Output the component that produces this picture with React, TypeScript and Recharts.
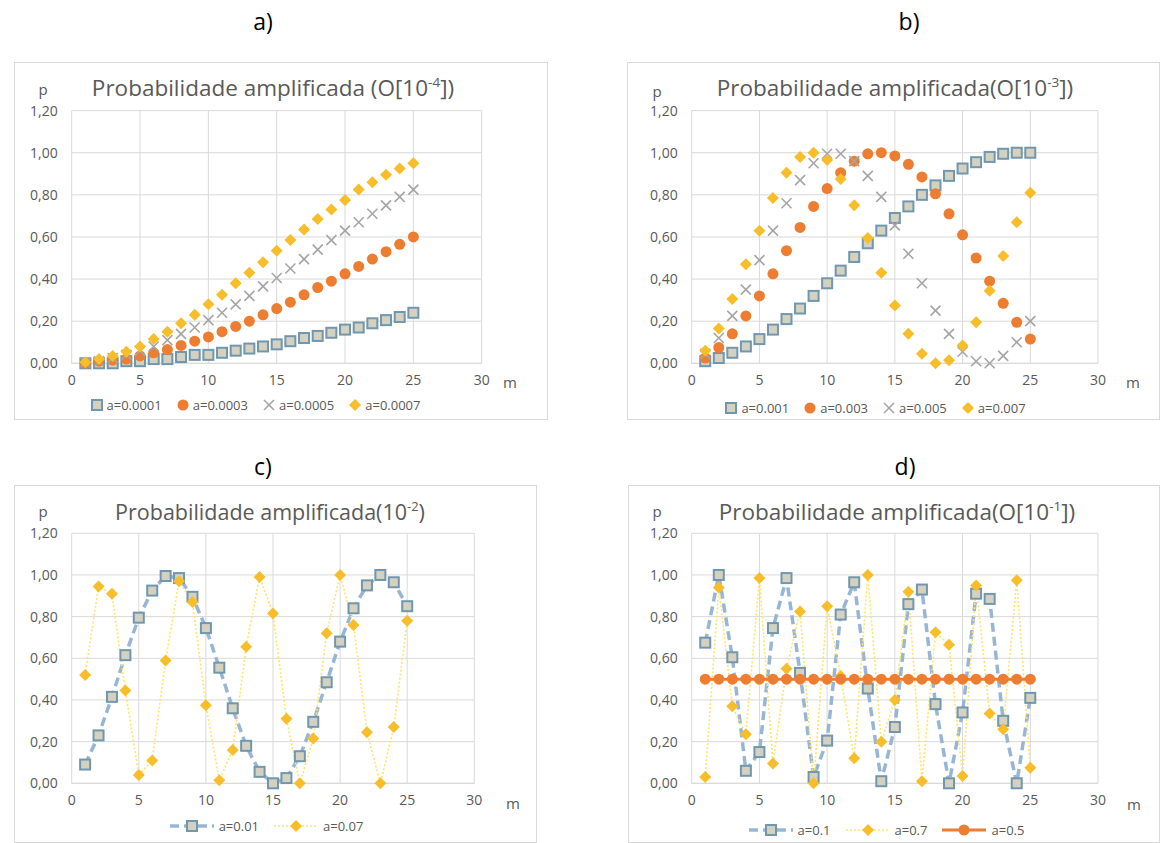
import React from 'react';
import { ComposedChart, Line, XAxis, YAxis, CartesianGrid } from 'recharts';

// ---------- data ----------
const M = [1, 2, 3, 4, 5, 6, 7, 8, 9, 10, 11, 12, 13, 14, 15, 16, 17, 18, 19, 20, 21, 22, 23, 24, 25];
const X_TICKS = [0, 5, 10, 15, 20, 25, 30];
const Y_TICKS = [0, 0.2, 0.4, 0.6, 0.8, 1.0, 1.2];

// panel a
const A_0001 = [0.00, 0.00, 0.00, 0.01, 0.01, 0.02, 0.02, 0.03, 0.04, 0.04, 0.05, 0.06, 0.07, 0.08, 0.09, 0.105, 0.12, 0.13, 0.145, 0.16, 0.17, 0.19, 0.205, 0.22, 0.24];
const A_0003 = [0.00, 0.01, 0.015, 0.02, 0.035, 0.05, 0.065, 0.085, 0.105, 0.125, 0.15, 0.175, 0.20, 0.23, 0.26, 0.29, 0.325, 0.36, 0.39, 0.425, 0.46, 0.495, 0.53, 0.565, 0.60];
const A_0005 = [0.005, 0.01, 0.025, 0.04, 0.06, 0.08, 0.11, 0.14, 0.17, 0.205, 0.24, 0.28, 0.32, 0.365, 0.405, 0.45, 0.495, 0.54, 0.585, 0.63, 0.67, 0.71, 0.75, 0.79, 0.825];
const A_0007 = [0.005, 0.02, 0.035, 0.055, 0.08, 0.115, 0.15, 0.19, 0.23, 0.28, 0.325, 0.38, 0.43, 0.48, 0.535, 0.585, 0.635, 0.685, 0.73, 0.775, 0.825, 0.86, 0.895, 0.925, 0.95];

// panel b
const B_001 = [0.01, 0.025, 0.05, 0.08, 0.115, 0.16, 0.21, 0.26, 0.32, 0.38, 0.44, 0.505, 0.57, 0.63, 0.69, 0.745, 0.80, 0.845, 0.89, 0.925, 0.955, 0.98, 0.995, 1.00, 1.00];
const B_003 = [0.025, 0.075, 0.14, 0.225, 0.32, 0.425, 0.535, 0.645, 0.745, 0.83, 0.905, 0.96, 0.995, 1.00, 0.985, 0.945, 0.885, 0.805, 0.71, 0.61, 0.50, 0.39, 0.285, 0.195, 0.115];
const B_005 = [0.045, 0.12, 0.225, 0.35, 0.49, 0.63, 0.76, 0.87, 0.95, 0.995, 0.995, 0.96, 0.89, 0.79, 0.655, 0.52, 0.38, 0.25, 0.14, 0.055, 0.01, 0.00, 0.035, 0.10, 0.20];
const B_007 = [0.06, 0.165, 0.305, 0.47, 0.63, 0.785, 0.905, 0.98, 1.00, 0.965, 0.875, 0.75, 0.595, 0.43, 0.275, 0.14, 0.045, 0.00, 0.015, 0.085, 0.195, 0.345, 0.51, 0.67, 0.81];

// panel c
const C_001 = [0.09, 0.23, 0.415, 0.615, 0.795, 0.925, 0.995, 0.985, 0.895, 0.745, 0.555, 0.36, 0.18, 0.055, 0.00, 0.025, 0.13, 0.295, 0.485, 0.68, 0.84, 0.95, 1.00, 0.965, 0.85];
const C_007 = [0.52, 0.945, 0.91, 0.445, 0.04, 0.11, 0.59, 0.97, 0.87, 0.375, 0.015, 0.16, 0.655, 0.99, 0.815, 0.31, 0.00, 0.215, 0.72, 1.00, 0.76, 0.245, 0.00, 0.27, 0.78];

// panel d
const D_01 = [0.675, 1.00, 0.605, 0.06, 0.15, 0.745, 0.985, 0.53, 0.03, 0.205, 0.81, 0.965, 0.455, 0.01, 0.27, 0.86, 0.93, 0.38, 0.00, 0.34, 0.91, 0.885, 0.30, 0.00, 0.41];
const D_07 = [0.03, 0.94, 0.37, 0.235, 0.985, 0.095, 0.55, 0.825, 0.00, 0.85, 0.515, 0.12, 1.00, 0.20, 0.40, 0.92, 0.01, 0.725, 0.665, 0.035, 0.95, 0.335, 0.26, 0.975, 0.075];
const D_05 = [0.5, 0.5, 0.5, 0.5, 0.5, 0.5, 0.5, 0.5, 0.5, 0.5, 0.5, 0.5, 0.5, 0.5, 0.5, 0.5, 0.5, 0.5, 0.5, 0.5, 0.5, 0.5, 0.5, 0.5, 0.5];

// ---------- styles ----------
const FONT = '"Open Sans", "Liberation Sans", sans-serif';
const TXT = '#595959';
const GRID = '#d9d9d9';
const SQ_FILL = '#D5D1C1';
const SQ_STROKE = '#7097AE';
const ORANGE = '#ED7D31';
const GRAY = '#A5A5A5';
const YELLOW = '#F7BE2A';
const BLUE_LINE = '#97B6D6';
const YELLOW_LINE = '#FFE36E';

type Kind = 'square' | 'circle' | 'cross' | 'diamond';

const Marker = ({ kind, cx, cy }: { kind: Kind; cx: number; cy: number }) => {
  if (cx == null || cy == null || isNaN(cx) || isNaN(cy)) return null;
  if (kind === 'square')
    return <rect x={cx - 5} y={cy - 5} width={10} height={10} fill={SQ_FILL} stroke={SQ_STROKE} strokeWidth={2} />;
  if (kind === 'circle') return <circle cx={cx} cy={cy} r={5.5} fill={ORANGE} />;
  if (kind === 'cross')
    return (
      <g stroke={GRAY} strokeWidth={1.6}>
        <line x1={cx - 5} y1={cy - 5} x2={cx + 5} y2={cy + 5} />
        <line x1={cx - 5} y1={cy + 5} x2={cx + 5} y2={cy - 5} />
      </g>
    );
  return <polygon points={`${cx},${cy - 6} ${cx + 6},${cy} ${cx},${cy + 6} ${cx - 6},${cy}`} fill={YELLOW} />;
};

type Series = {
  key: string;
  label: string;
  values: number[];
  kind: Kind;
  line?: { color: string; width: number; dash?: string };
};

type PanelProps = {
  box: { l: number; t: number; r: number; b: number };
  plot: { l: number; t: number; r: number; b: number };
  series: Series[];
  title: React.ReactNode;
  titleCx: number;
  titleCy: number;
  titleSize: number;
  pPos: [number, number];
  mPos: [number, number];
  legendCx: number;
  legendCy: number;
};

const YAW = 40;
const XAH = 30;

const LegendIcon = ({ s }: { s: Series }) => {
  if (!s.line) {
    return (
      <svg width={14} height={14} style={{ marginRight: 3 }}>
        <Marker kind={s.kind} cx={7} cy={7} />
      </svg>
    );
  }
  return (
    <svg width={46} height={14} style={{ marginRight: 4 }}>
      <line x1={1} y1={7} x2={45} y2={7} stroke={s.line.color} strokeWidth={s.line.width} strokeDasharray={s.line.dash} />
      <Marker kind={s.kind} cx={23} cy={7} />
    </svg>
  );
};

const Panel = (p: PanelProps) => {
  const { box, plot, series } = p;
  const W = box.r - box.l;
  const H = box.b - box.t;
  const data = M.map((m, i) => {
    const row: any = { m };
    series.forEach((s) => (row[s.key] = s.values[i]));
    return row;
  });
  const margin = {
    top: plot.t - box.t,
    left: plot.l - box.l - YAW,
    right: box.r - plot.r,
    bottom: box.b - plot.b - XAH,
  };
  return (
    <>
      <div
        style={{
          position: 'absolute',
          left: box.l,
          top: box.t,
          width: W,
          height: H,
          boxSizing: 'border-box',
          border: '1px solid #d9d9d9',
        }}
      />
      <div style={{ position: 'absolute', left: box.l, top: box.t, width: W, height: H }}>
        <ComposedChart width={W} height={H} data={data} margin={margin}>
          <CartesianGrid stroke={GRID} strokeWidth={1} />
          <XAxis
            type="number"
            dataKey="m"
            domain={[0, 30]}
            ticks={X_TICKS}
            interval={0}
            height={XAH}
            tickLine={false}
            axisLine={{ stroke: GRID }}
            tickMargin={6}
            tick={{ fill: TXT, fontSize: 14, fontFamily: FONT }}
          />
          <YAxis
            type="number"
            domain={[0, 1.2]}
            ticks={Y_TICKS}
            interval={0}
            width={YAW}
            tickLine={false}
            axisLine={false}
            tickMargin={8}
            tickFormatter={(v: number) => v.toFixed(2).replace('.', ',')}
            tick={{ fill: TXT, fontSize: 14, fontFamily: FONT }}
          />
          {series.map((s) => (
            <Line
              key={s.key}
              dataKey={s.key}
              type="linear"
              isAnimationActive={false}
              stroke={s.line ? s.line.color : 'none'}
              strokeWidth={s.line ? s.line.width : 0}
              strokeDasharray={s.line?.dash}
              activeDot={false}
              dot={(d: any) => <Marker key={`${s.key}-${d.index}`} kind={s.kind} cx={d.cx} cy={d.cy} />}
            />
          ))}
        </ComposedChart>
      </div>
      <div
        style={{
          position: 'absolute',
          left: p.titleCx - 300,
          top: p.titleCy - 16,
          width: 600,
          textAlign: 'center',
          fontFamily: FONT,
          fontSize: p.titleSize,
          lineHeight: '32px',
          color: TXT,
          whiteSpace: 'nowrap',
        }}
      >
        {p.title}
      </div>
      <div style={{ position: 'absolute', left: p.pPos[0] - 10, top: p.pPos[1] - 10, width: 20, textAlign: 'center', fontFamily: FONT, fontSize: 15, lineHeight: '20px', color: TXT }}>p</div>
      <div style={{ position: 'absolute', left: p.mPos[0] - 10, top: p.mPos[1] - 10, width: 20, textAlign: 'center', fontFamily: FONT, fontSize: 15, lineHeight: '20px', color: TXT }}>m</div>
      <div
        style={{
          position: 'absolute',
          left: p.legendCx - 300,
          top: p.legendCy - 10,
          width: 600,
          height: 20,
          display: 'flex',
          justifyContent: 'center',
          alignItems: 'center',
          fontFamily: FONT,
          fontSize: 13,
          color: TXT,
          whiteSpace: 'nowrap',
        }}
      >
        {series.map((s) => (
          <div key={s.key} style={{ display: 'flex', alignItems: 'center', marginRight: 14 }}>
            <LegendIcon s={s} />
            <span>{s.label}</span>
          </div>
        ))}
      </div>
    </>
  );
};

const sup = (t: string) => <sup style={{ fontSize: '0.6em', verticalAlign: '0.7em', lineHeight: 0 }}>{t}</sup>;

const PanelLabel = ({ x, y, text }: { x: number; y: number; text: string }) => (
  <div style={{ position: 'absolute', left: x - 30, top: y - 15, width: 60, textAlign: 'center', fontFamily: FONT, fontSize: 23, lineHeight: '30px', color: '#000' }}>
    {text}
  </div>
);

export default function App() {
  const blueDash = { color: BLUE_LINE, width: 3.5, dash: '9 5' };
  const yellowDot = { color: YELLOW_LINE, width: 1.6, dash: '2 2' };
  return (
    <div style={{ position: 'absolute', left: 0, top: 0, width: 1163, height: 843, background: '#fff', overflow: 'hidden' }}>
      <PanelLabel x={263} y={21} text="a)" />
      <PanelLabel x={909} y={21} text="b)" />
      <PanelLabel x={263} y={466} text="c)" />
      <PanelLabel x={905} y={466} text="d)" />

      <Panel
        box={{ l: 14, t: 62, r: 548, b: 420 }}
        plot={{ l: 71.7, t: 110.6, r: 481.7, b: 363.3 }}
        series={[
          { key: 's1', label: 'a=0.0001', values: A_0001, kind: 'square' },
          { key: 's2', label: 'a=0.0003', values: A_0003, kind: 'circle' },
          { key: 's3', label: 'a=0.0005', values: A_0005, kind: 'cross' },
          { key: 's4', label: 'a=0.0007', values: A_0007, kind: 'diamond' },
        ]}
        title={<>Probabilidade amplificada (O[10{sup('-4')}])</>}
        titleCx={273}
        titleCy={88}
        titleSize={22.5}
        pPos={[43, 89]}
        mPos={[510, 382]}
        legendCx={262}
        legendCy={405}
      />
      <Panel
        box={{ l: 627, t: 62, r: 1160, b: 420 }}
        plot={{ l: 691.7, t: 110.6, r: 1098, b: 363.3 }}
        series={[
          { key: 's1', label: 'a=0.001', values: B_001, kind: 'square' },
          { key: 's2', label: 'a=0.003', values: B_003, kind: 'circle' },
          { key: 's3', label: 'a=0.005', values: B_005, kind: 'cross' },
          { key: 's4', label: 'a=0.007', values: B_007, kind: 'diamond' },
        ]}
        title={<>Probabilidade amplificada(O[10{sup('-3')}])</>}
        titleCx={895}
        titleCy={88}
        titleSize={22.5}
        pPos={[657, 91]}
        mPos={[1133, 382]}
        legendCx={882}
        legendCy={408}
      />
      <Panel
        box={{ l: 14, t: 485, r: 537, b: 843 }}
        plot={{ l: 71.7, t: 533.3, r: 474.3, b: 783.3 }}
        series={[
          { key: 's1', label: 'a=0.01', values: C_001, kind: 'square', line: blueDash },
          { key: 's2', label: 'a=0.07', values: C_007, kind: 'diamond', line: yellowDot },
        ]}
        title={<>Probabilidade amplificada(10{sup('-2')})</>}
        titleCx={270}
        titleCy={512}
        titleSize={21.5}
        pPos={[43, 511]}
        mPos={[513, 803]}
        legendCx={273}
        legendCy={826}
      />
      <Panel
        box={{ l: 628, t: 485, r: 1160, b: 843 }}
        plot={{ l: 691.7, t: 533.3, r: 1098, b: 783.3 }}
        series={[
          { key: 's1', label: 'a=0.1', values: D_01, kind: 'square', line: blueDash },
          { key: 's2', label: 'a=0.7', values: D_07, kind: 'diamond', line: yellowDot },
          { key: 's3', label: 'a=0.5', values: D_05, kind: 'circle', line: { color: ORANGE, width: 3 } },
        ]}
        title={<>Probabilidade amplificada(O[10{sup('-1')}])</>}
        titleCx={897}
        titleCy={512}
        titleSize={22.5}
        pPos={[657, 511]}
        mPos={[1134, 804]}
        legendCx={893}
        legendCy={830}
      />
    </div>
  );
}
